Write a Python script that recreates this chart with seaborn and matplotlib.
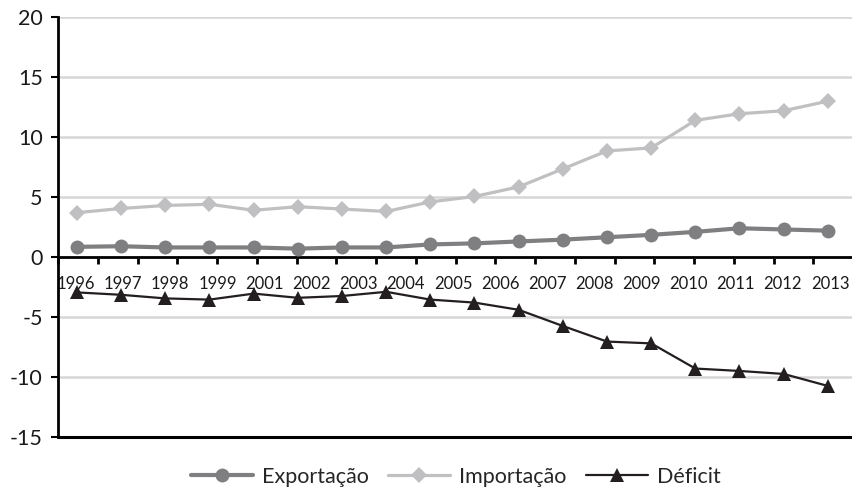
import numpy as np
import pandas as pd
import matplotlib
matplotlib.use("Agg")
import matplotlib.pyplot as plt
import seaborn as sns

year_labels = ["1996", "1997", "1998", "1999", "2001", "2002", "2003", "2004", "2005",
               "2006", "2007", "2008", "2009", "2010", "2011", "2012", "2013"]
exportacao = [0.85, 0.9, 0.8, 0.8, 0.8, 0.7, 0.8, 0.8, 1.05, 1.14, 1.3, 1.45, 1.65, 1.85, 2.1, 2.4, 2.3, 2.2]
importacao = [3.7, 4.05, 4.3, 4.4, 3.9, 4.2, 4.0, 3.8, 4.6, 5.05, 5.85, 7.35, 8.85, 9.1, 11.4, 11.95, 12.2, 13.0]
deficit = [-2.95, -3.15, -3.45, -3.55, -3.05, -3.4, -3.25, -2.9, -3.55, -3.8, -4.4, -5.75, -7.05, -7.2, -9.3, -9.5, -9.75, -10.75]
y_ticks = [-15, -10, -5, 0, 5, 10, 15, 20]

sns.set_theme(style="white")
plt.rcParams['font.family'] = ['Lato', 'DejaVu Sans']

n = len(exportacao)
df = pd.DataFrame({"idx": np.arange(n), "Exportação": exportacao,
                   "Importação": importacao, "Déficit": deficit})

fig = plt.figure(figsize=(8.53, 4.92), dpi=100)
ax = fig.add_axes([0.068, 0.112, 0.932, 0.853])

ax.grid(axis='y', color='#d6d6d6', lw=1.8)
ax.set_axisbelow(True)

sns.lineplot(data=df, x="idx", y="Exportação", ax=ax, color="#7f7f81", lw=3.0,
             marker="o", markersize=10, markeredgewidth=0, label="Exportação", zorder=4)
sns.lineplot(data=df, x="idx", y="Importação", ax=ax, color="#c0c0c2", lw=2.3,
             marker="D", markersize=8.5, markeredgewidth=0, label="Importação", zorder=3)
sns.lineplot(data=df, x="idx", y="Déficit", ax=ax, color="#231f20", lw=1.6,
             marker="^", markersize=10.5, markeredgewidth=0, label="Déficit", zorder=5)

x0, x1 = -0.43, 17.57
ax.set_xlim(x0, x1)
ax.set_ylim(-15, 20)
ax.set_yticks(y_ticks)
ax.set_yticklabels([str(v) for v in y_ticks], fontsize=15.5, color='#1a1a1a')
ax.set_xlabel("")
ax.set_ylabel("")

for s in ["top", "right"]:
    ax.spines[s].set_visible(False)
ax.spines["left"].set_color("black")
ax.spines["left"].set_linewidth(2)
ax.spines["bottom"].set_position(("data", 0))
ax.spines["bottom"].set_color("black")
ax.spines["bottom"].set_linewidth(2)
ax.spines["bottom"].set_zorder(2)
ax.axhline(-15, color="black", lw=2.2, clip_on=False, zorder=2)

# x tick labels (17) and tick marks (20 divisions)
px_per_unit = 797 / 18
label_pos = [x0 + (18 + 47.25 * i) / px_per_unit for i in range(len(year_labels))]
ax.set_xticks(label_pos)
ax.set_xticklabels(year_labels, fontsize=12, color='#1a1a1a')
ax.set_xticks([x0 + k * (x1 - x0) / 20 for k in range(21)], minor=True)
ax.tick_params(axis='x', which='major', length=0, pad=14)
ax.tick_params(axis='x', which='minor', direction='out', length=5, width=2, color='black', bottom=True)
ax.tick_params(axis='y', which='major', direction='out', length=5, width=1.5, color='black', left=True, pad=6)

leg = ax.legend(loc='center', bbox_to_anchor=(0.5, -0.095), ncol=3, frameon=False,
                fontsize=15.5, handlelength=2.9, columnspacing=0.9, handletextpad=0.4)

fig.savefig("out.png", dpi=100)
